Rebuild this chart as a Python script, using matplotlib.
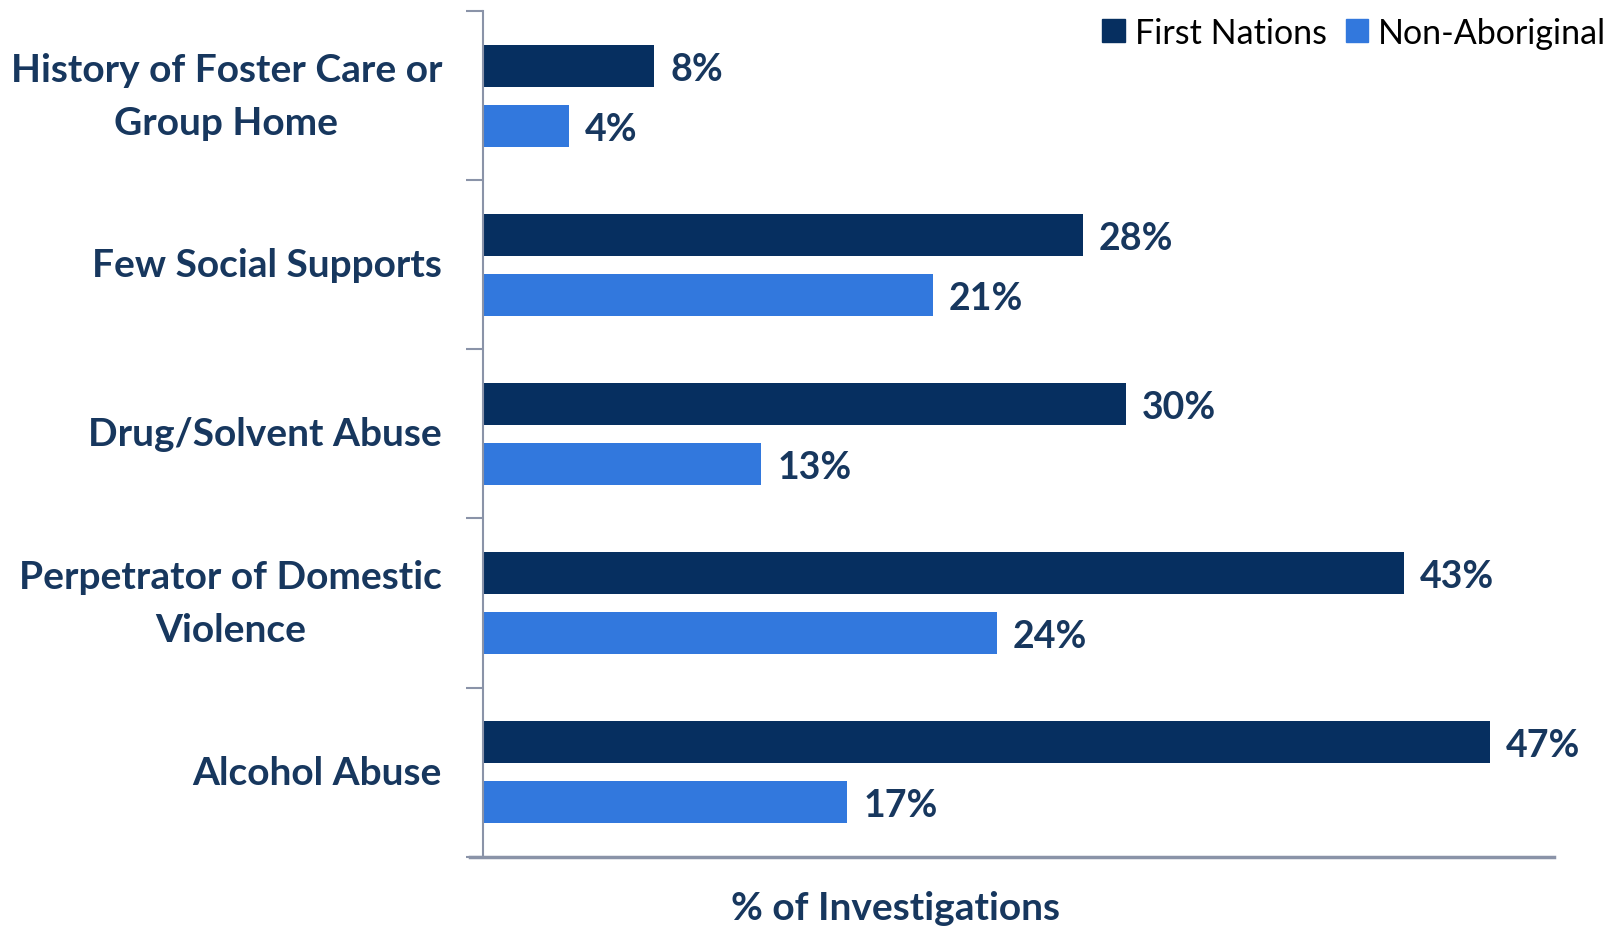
import numpy as np
import matplotlib.pyplot as plt
from matplotlib.patches import Patch

plt.rcParams['font.family'] = ['Lato', 'DejaVu Sans']

categories = [
    'History of Foster Care or\nGroup Home',
    'Few Social Supports',
    'Drug/Solvent Abuse',
    'Perpetrator of Domestic\nViolence',
    'Alcohol Abuse',
]
first_nations = [8, 28, 30, 43, 47]
non_aboriginal = [4, 21, 13, 24, 17]
series_names = ['First Nations', 'Non-Aboriginal']

navy = '#062f60'
blue = '#3278dd'
text_col = '#17375e'
axis_col = '#8a93a8'

fig = plt.figure(figsize=(16.22, 9.29), dpi=100)
ax = fig.add_axes([0.2978, 0.0769, 0.6603, 0.9098])

y = np.arange(len(categories))
h = 0.25
off = 0.178
ax.barh(y - off, first_nations, height=h, color=navy, label=series_names[0])
ax.barh(y + off, non_aboriginal, height=h, color=blue, label=series_names[1])

for yi, v in zip(y - off, first_nations):
    ax.annotate(f'{v}%', (v, yi), xytext=(16, -3), textcoords='offset pixels',
                va='center', ha='left', fontsize=27, fontweight='bold', color=text_col)
for yi, v in zip(y + off, non_aboriginal):
    ax.annotate(f'{v}%', (v, yi), xytext=(16, -3), textcoords='offset pixels',
                va='center', ha='left', fontsize=27, fontweight='bold', color=text_col)

ax.set_xlim(0, 50)
ax.set_ylim(len(categories) - 0.5, -0.5)

# category boundaries as tick marks on the left spine
ax.set_yticks(np.arange(-0.5, len(categories), 1.0))
ax.set_yticklabels([])
ax.tick_params(axis='y', length=12, width=1.5, color=axis_col)
ax.set_xticks([])

# category names, right aligned against the axis, lines centred
for yi, lab in zip(y, categories):
    ax.annotate(lab, (0, yi), xytext=(-41, 0), textcoords='offset pixels',
                ha='right', va='center', fontsize=28, fontweight='bold',
                color=text_col, multialignment='center', linespacing=1.6)

for side in ['top', 'right']:
    ax.spines[side].set_visible(False)
ax.spines['left'].set_color(axis_col)
ax.spines['left'].set_linewidth(1.5)
ax.spines['bottom'].set_color(axis_col)
ax.spines['bottom'].set_linewidth(2.5)
ax.spines['bottom'].set_bounds(-0.6, 50)

fig.text(0.5524, 0.022, '% of Investigations', ha='center', va='center',
         fontsize=28, fontweight='bold', color=text_col)

handles = [Patch(color=navy), Patch(color=blue)]
fig.legend(handles, series_names, loc='upper right', bbox_to_anchor=(1.009, 1.014),
           ncol=2, frameon=False, fontsize=24.5, handlelength=0.65, handleheight=0.65,
           handletextpad=0.3, columnspacing=0.55)

fig.savefig('out.png', dpi=100)
